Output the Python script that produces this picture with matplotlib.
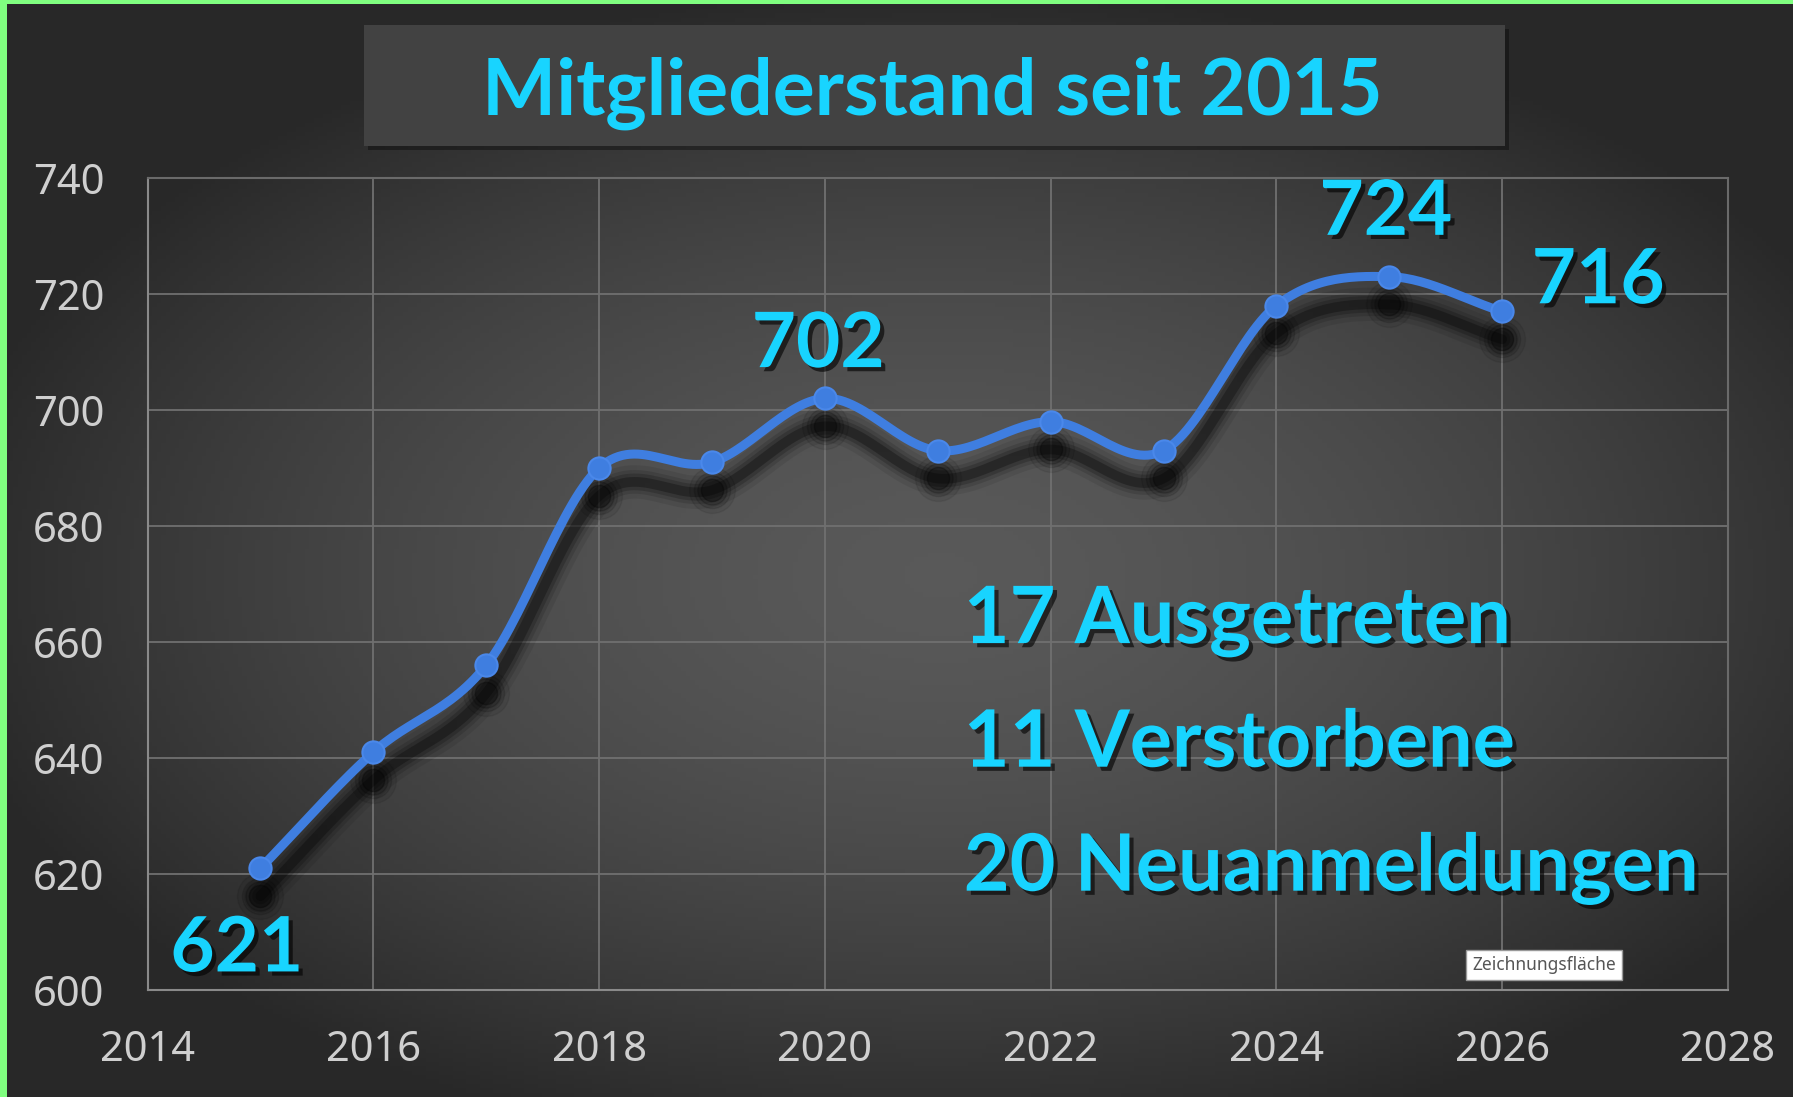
import numpy as np
import matplotlib.pyplot as plt
import matplotlib.patheffects as pe
from matplotlib.patches import Rectangle

years = [2015, 2016, 2017, 2018, 2019, 2020, 2021, 2022, 2023, 2024, 2025, 2026]
members = [621, 641, 656, 690, 691, 702, 693, 698, 693, 718, 723, 717]

title = "Mitgliederstand seit 2015"
value_labels = ["621", "702", "724", "716"]
value_label_pos = [(2014.79, 607.0), (2019.94, 711.2), (2024.97, 734.0), (2026.85, 722.2)]
info_lines = ["17 Ausgetreten", "11 Verstorbene", "20 Neuanmeldungen"]
info_y = [663.4, 642.3, 620.8]

CYAN = "#18d4ff"
BLUE = "#3f7ee0"


def smooth(x, y, n=30):
    # catmull-rom through the points, like Excel's smoothed line
    x = np.asarray(x, float)
    y = np.asarray(y, float)
    px = np.concatenate([[2 * x[0] - x[1]], x, [2 * x[-1] - x[-2]]])
    py = np.concatenate([[2 * y[0] - y[1]], y, [2 * y[-1] - y[-2]]])
    xs, ys = [], []
    t = np.linspace(0, 1, n)
    for i in range(1, len(px) - 2):
        for p, out in ((px, xs), (py, ys)):
            p0, p1, p2, p3 = p[i - 1], p[i], p[i + 1], p[i + 2]
            out.extend(0.5 * ((2 * p1) + (-p0 + p2) * t + (2 * p0 - 5 * p1 + 4 * p2 - p3) * t ** 2
                              + (-p0 + 3 * p1 - 3 * p2 + p3) * t ** 3))
    return np.array(xs), np.array(ys)


fig = plt.figure(figsize=(17.93, 10.97), dpi=100)

# background: dark radial gradient
bg = fig.add_axes([0, 0, 1, 1])
gx, gy = np.meshgrid(np.linspace(-1, 1, 400), np.linspace(-1, 1, 250))
r = np.sqrt(((gx - 0.05) / 1.05) ** 2 + ((gy + 0.05) / 1.0) ** 2)
shade = np.clip(0.35 - 0.17 * r ** 1.6, 0.16, 0.36)
bg.imshow(np.dstack([shade] * 3), extent=[0, 1, 0, 1], aspect="auto", origin="lower")
bg.set_xlim(0, 1)
bg.set_ylim(0, 1)
bg.axis("off")

# green frame on left and top
bg.add_patch(Rectangle((0, 0), 7 / 1793, 1, color="#80ff80", lw=0))
bg.add_patch(Rectangle((0, 1 - 4 / 1097), 1, 4 / 1097, color="#80ff80", lw=0))

# title box
bg.add_patch(Rectangle((368 / 1793, 1 - 150 / 1097), 1141 / 1793, 121 / 1097, color="black", alpha=0.35, lw=0))
bg.add_patch(Rectangle((364 / 1793, 1 - 146 / 1097), 1141 / 1793, 121 / 1097, color="#424242", lw=0))
bg.text(932 / 1793, 1 - 93 / 1097, title, color=CYAN, fontsize=56.5, fontweight="bold",
        family="Lato", ha="center", va="center")

ax = fig.add_axes([0.0823, 0.0975, 0.8814, 0.7402])
ax.patch.set_alpha(0)
ax.set_xlim(2014, 2028)
ax.set_ylim(600, 740)
ax.set_xticks(range(2014, 2029, 2))
ax.set_yticks(range(600, 741, 20))
ax.grid(True, color="#707070", lw=1.3)
ax.set_axisbelow(True)
for s in ax.spines.values():
    s.set_color("#8a8a8a")
    s.set_linewidth(1.5)
ax.spines["top"].set_color("#6a6a6a")
ax.spines["right"].set_color("#6a6a6a")
ax.tick_params(length=0, labelsize=30, labelcolor="#cfcfcf")
ax.tick_params(axis="x", pad=28)
ax.tick_params(axis="y", pad=31)
for lab in ax.get_xticklabels() + ax.get_yticklabels():
    lab.set_family("Noto Sans")

sx, sy = smooth(years, members)
# soft shadow
for w, a in [(24, 0.08), (17, 0.12), (12, 0.18), (7, 0.28)]:
    ax.plot(sx, np.array(sy) - 4.8, color="black", lw=w, alpha=a, solid_capstyle="round")
    ax.plot(years, np.array(members) - 4.8, "o", color="black", ms=w + 9, alpha=a * 0.9, lw=0)
ax.plot(sx, sy, color=BLUE, lw=6.5, solid_capstyle="round")
ax.plot(years, members, "o", color=BLUE, ms=16, markeredgecolor="#4a88ea", mew=1.5)

shadow = [pe.withSimplePatchShadow(offset=(3, -3), shadow_rgbFace="black", alpha=0.6)]
for txt, (x, y) in zip(value_labels, value_label_pos):
    ax.text(x, y, txt, color=CYAN, fontsize=55, fontweight="bold", family="Lato",
            ha="center", va="center", path_effects=shadow)
for txt, y in zip(info_lines, info_y):
    ax.text(2021.23, y, txt, color=CYAN, fontsize=57, fontweight="bold", family="Lato",
            ha="left", va="center", path_effects=shadow)

ax.text(2026.37, 604.3, "Zeichnungsfläche", color="#555555", fontsize=12.5, family="Noto Sans",
        ha="center", va="center",
        bbox=dict(boxstyle="square,pad=0.35", fc="white", ec="#999999", lw=1))

fig.savefig("out.png", dpi=100)
